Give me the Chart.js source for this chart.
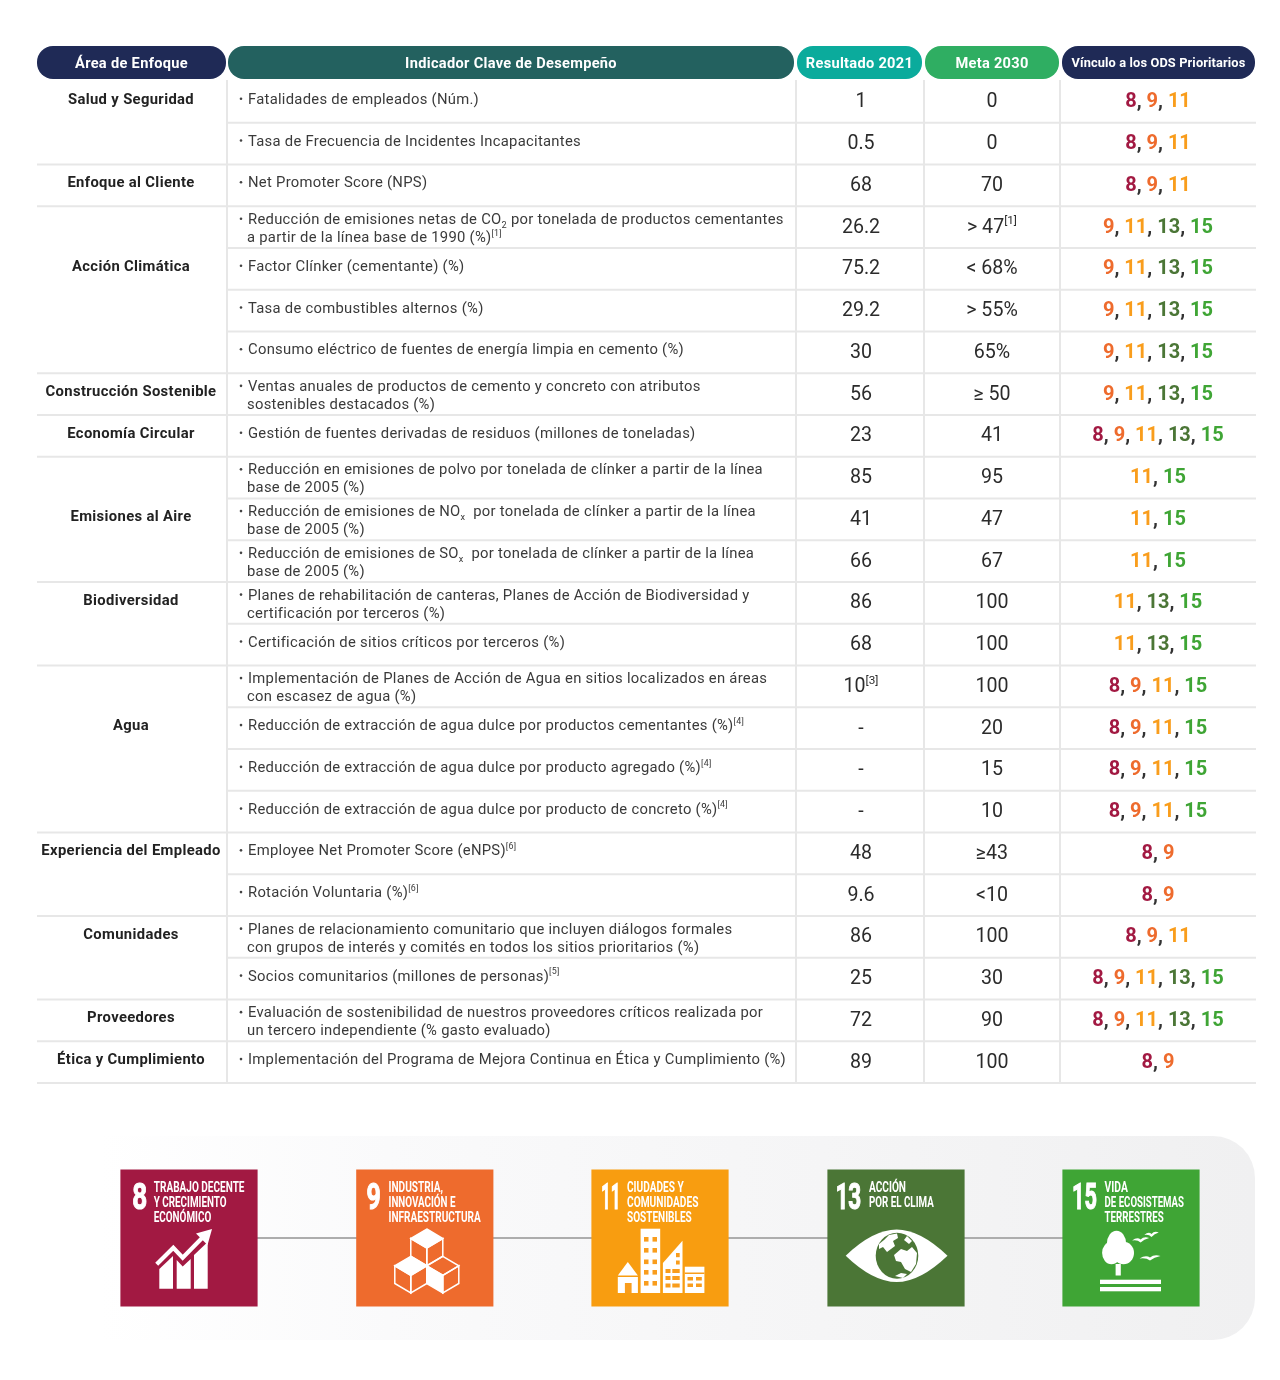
<!DOCTYPE html>
<html lang="es">
<head>
<meta charset="utf-8">
<title>Indicadores de sostenibilidad</title>
<script src="https://cdn.jsdelivr.net/npm/chart.js@4"></script>
<style>
  html, body { margin: 0; padding: 0; background: #fff; }
  canvas { display: block; }
</style>
</head>
<body>
<canvas id="chart" width="1280" height="1380"></canvas>
<script>
// _{x} = subindice, ^{x} = superindice, \n = segunda linea
const headers = ["Área de Enfoque", "Indicador Clave de Desempeño", "Resultado 2021", "Meta 2030", "Vínculo a los ODS Prioritarios"];
const areas = ["Salud y Seguridad", "Enfoque al Cliente", "Acción Climática", "Construcción Sostenible", "Economía Circular", "Emisiones al Aire", "Biodiversidad", "Agua", "Experiencia del Empleado", "Comunidades", "Proveedores", "Ética y Cumplimiento"];
const areaFirstRow = [0, 2, 3, 7, 8, 9, 12, 14, 18, 20, 22, 23];
const areaLabelRow = [0, 2, 4, 7, 8, 10, 12, 15, 18, 20, 22, 23];
const indicators = [
  "Fatalidades de empleados (Núm.)",
  "Tasa de Frecuencia de Incidentes Incapacitantes",
  "Net Promoter Score (NPS)",
  "Reducción de emisiones netas de CO_{2} por tonelada de productos cementantes\na partir de la línea base de 1990 (%)^{[1]}",
  "Factor Clínker (cementante) (%)",
  "Tasa de combustibles alternos (%)",
  "Consumo eléctrico de fuentes de energía limpia en cemento (%)",
  "Ventas anuales de productos de cemento y concreto con atributos\nsostenibles destacados (%)",
  "Gestión de fuentes derivadas de residuos (millones de toneladas)",
  "Reducción en emisiones de polvo por tonelada de clínker a partir de la línea\nbase de 2005 (%)",
  "Reducción de emisiones de NO_{x}  por tonelada de clínker a partir de la línea\nbase de 2005 (%)",
  "Reducción de emisiones de SO_{x}  por tonelada de clínker a partir de la línea\nbase de 2005 (%)",
  "Planes de rehabilitación de canteras, Planes de Acción de Biodiversidad y\ncertificación por terceros (%)",
  "Certificación de sitios críticos por terceros (%)",
  "Implementación de Planes de Acción de Agua en sitios localizados en áreas\ncon escasez de agua (%)",
  "Reducción de extracción de agua dulce por productos cementantes (%)^{[4]}",
  "Reducción de extracción de agua dulce por producto agregado (%)^{[4]}",
  "Reducción de extracción de agua dulce por producto de concreto (%)^{[4]}",
  "Employee Net Promoter Score (eNPS)^{[6]}",
  "Rotación Voluntaria (%)^{[6]}",
  "Planes de relacionamiento comunitario que incluyen diálogos formales\ncon grupos de interés y comités en todos los sitios prioritarios (%)",
  "Socios comunitarios (millones de personas)^{[5]}",
  "Evaluación de sostenibilidad de nuestros proveedores críticos realizada por\nun tercero independiente (% gasto evaluado)",
  "Implementación del Programa de Mejora Continua en Ética y Cumplimiento (%)"
];
const resultado2021 = ["1", "0.5", "68", "26.2", "75.2", "29.2", "30", "56", "23", "85", "41", "66", "86", "68", "10^{[3]}", "-", "-", "-", "48", "9.6", "86", "25", "72", "89"];
const meta2030 = ["0", "0", "70", "> 47^{[1]}", "< 68%", "> 55%", "65%", "≥ 50", "41", "95", "47", "67", "100", "100", "100", "20", "15", "10", "≥43", "<10", "100", "30", "90", "100"];
const odsVinculo = [
  [8, 9, 11], [8, 9, 11], [8, 9, 11],
  [9, 11, 13, 15], [9, 11, 13, 15], [9, 11, 13, 15], [9, 11, 13, 15], [9, 11, 13, 15],
  [8, 9, 11, 13, 15],
  [11, 15], [11, 15], [11, 15],
  [11, 13, 15], [11, 13, 15],
  [8, 9, 11, 15], [8, 9, 11, 15], [8, 9, 11, 15], [8, 9, 11, 15],
  [8, 9], [8, 9],
  [8, 9, 11], [8, 9, 11, 13, 15], [8, 9, 11, 13, 15],
  [8, 9]
];
const odsGoals = [8, 9, 11, 13, 15];
const odsTitles = [
  ["TRABAJO DECENTE", "Y CRECIMIENTO", "ECONÓMICO"],
  ["INDUSTRIA,", "INNOVACIÓN E", "INFRAESTRUCTURA"],
  ["CIUDADES Y", "COMUNIDADES", "SOSTENIBLES"],
  ["ACCIÓN", "POR EL CLIMA"],
  ["VIDA", "DE ECOSISTEMAS", "TERRESTRES"]
];

// layout y estilos
const FONT = "Roboto, sans-serif";
const odsColors = { 8: "#a21942", 9: "#ee6b2d", 11: "#f99d1c", 13: "#4b7636", 15: "#3fa535" };
const headerSpans = [[37, 226], [228, 794], [797, 922], [925, 1059], [1062, 1255]];
const headerColors = ["#1f2a56", "#23615f", "#0bab9c", "#2fae62", "#1f2a56"];
const headerFonts = [[700, 14.6, 0.32], [700, 14.6, 0.32], [700, 14.6, 0.3], [700, 14.6, 0.3], [700, 12.8, 0.13]];
const tileCenterX = [189, 424.8, 660, 896, 1131];
const tileHalf = 68.6;
const tileCenterY = 1238;
const tileNumberBox = [[12.2, 27.2], [10.7, 25], [10, 29.3], [8.4, 34.3], [10, 35]];
const tileTitleX = [33.8, 32.7, 36, 42, 42.6];
const tileTitleW = [[90.7, 72.7, 57.4], [54.6, 67, 92.3], [56.7, 71.4, 64.7], [37, 64.7], [23.3, 79.4, 59]];
const gridColor = "#e7e7e7";
const textColor = "#3a3a3a";
const numberColor = "#2b2b2b";

function rich(ctx, str, x, y, weight, size, align, color, spacing) {
  const parts = str.split(/(_\{.*?\}|\^\{.*?\})/).filter(Boolean).map((p) => {
    if (p.startsWith("_{")) return { t: p.slice(2, -1), s: size * 0.62, dy: 4 };
    if (p.startsWith("^{")) return { t: p.slice(2, -1), s: size * 0.6, dy: -size * 0.42 };
    return { t: p, s: size, dy: 0 };
  });
  ctx.letterSpacing = (spacing || 0) + "px";
  let w = 0;
  parts.forEach((p) => {
    ctx.font = `${weight} ${p.s}px ${FONT}`;
    p.w = ctx.measureText(p.t).width;
    w += p.w;
  });
  let cx = align === "center" ? x - w / 2 : x;
  ctx.textAlign = "left";
  ctx.textBaseline = "alphabetic";
  ctx.fillStyle = color;
  parts.forEach((p) => {
    ctx.font = `${weight} ${p.s}px ${FONT}`;
    ctx.fillText(p.t, cx, y + p.dy);
    cx += p.w;
  });
  ctx.letterSpacing = "0px";
}

// texto condensado al ancho medido
function squeezed(ctx, text, x, y, size, width, thicken) {
  ctx.save();
  ctx.font = `700 ${size}px ${FONT}`;
  ctx.textAlign = "left";
  ctx.textBaseline = "alphabetic";
  ctx.translate(x, y);
  ctx.scale(width / ctx.measureText(text).width, 1);
  ctx.fillStyle = "#fff";
  ctx.fillText(text, 0, 0);
  if (thicken) {
    ctx.strokeStyle = "#fff";
    ctx.lineWidth = thicken;
    ctx.strokeText(text, 0, 0);
  }
  ctx.restore();
}

function poly(ctx, pts) {
  ctx.beginPath();
  pts.forEach((p, i) => (i ? ctx.lineTo(p[0], p[1]) : ctx.moveTo(p[0], p[1])));
  ctx.closePath();
}

function iconGrowth(ctx) {
  ctx.fillStyle = "#fff";
  ctx.strokeStyle = "#fff";
  [[[39.3, 119.7], [53, 119.7], [53, 87], [39.3, 100]],
   [[56.7, 119.7], [70.7, 119.7], [70.7, 90], [62.7, 97.5], [56.7, 91]],
   [[74, 119.7], [87.7, 119.7], [87.7, 73], [74, 86]],
   [[92, 60], [76, 64.5], [87.5, 76]]].forEach((p) => { poly(ctx, p); ctx.fill(); });
  ctx.lineWidth = 4.2;
  ctx.lineJoin = "miter";
  ctx.beginPath();
  ctx.moveTo(36.7, 95.3);
  ctx.lineTo(53.3, 78.7);
  ctx.lineTo(62.7, 88.7);
  ctx.lineTo(85, 66);
  ctx.stroke();
}

function cube(ctx, cx, top, fillFace) {
  const w = 16, s = 9.5, h = 17.7;
  const T = [cx, top], L = [cx - w, top + s], R = [cx + w, top + s], C = [cx, top + 2 * s];
  const BL = [cx - w, top + s + h], BR = [cx + w, top + s + h], B = [cx, top + 2 * s + h];
  const faces = { top: [T, R, C, L], left: [L, C, B, BL], right: [C, R, BR, B] };
  ctx.fillStyle = "#fff";
  ctx.strokeStyle = "#fff";
  ctx.lineWidth = 1.5;
  Object.keys(faces).forEach((k) => {
    poly(ctx, faces[k]);
    if (k === fillFace) ctx.fill();
    ctx.stroke();
  });
}

function iconCity(ctx, bg) {
  const fillR = (x0, x1, y0, y1, c) => { ctx.fillStyle = c; ctx.fillRect(x0, y0, x1 - x0, y1 - y0); };
  ctx.fillStyle = "#fff";
  poly(ctx, [[36.8, 93], [46.9, 106.5], [26.8, 106.5]]);
  ctx.fill();
  fillR(26.8, 46.9, 108, 124, "#fff");
  fillR(33.9, 40.6, 114, 124, bg);
  fillR(49.6, 69.2, 59.7, 124, "#fff");
  [68, 79, 90.5, 101, 112].forEach((y) => {
    fillR(53, 57.5, y, y + 4.6, bg);
    fillR(61.5, 66, y, y + 4.6, bg);
  });
  ctx.fillStyle = "#fff";
  poly(ctx, [[71.9, 94], [91.5, 71.7], [91.5, 124], [71.9, 124]]);
  ctx.fill();
  [[85, 84, 88.7, 88.2], [85, 91.5, 88.7, 95.5], [74.5, 100, 79.5, 104], [81.3, 100, 88.7, 104], [74.5, 107, 79.5, 111], [81.3, 107, 88.7, 111], [74.5, 114.5, 79.5, 118.5], [81.3, 114.5, 88.7, 118.5]].forEach((r) => fillR(r[0], r[2], r[1], r[3], bg));
  fillR(93.8, 113.4, 97.7, 124, "#fff");
  fillR(93.8, 113.4, 103.5, 105, bg);
  [[96.5, 102], [105, 110.8]].forEach((c) => {
    fillR(c[0], c[1], 108, 111.5, bg);
    fillR(c[0], c[1], 114.5, 118, bg);
  });
}

function iconEye(ctx, bg) {
  ctx.fillStyle = "#fff";
  ctx.beginPath();
  ctx.moveTo(18.7, 86.7);
  ctx.quadraticCurveTo(46, 60.5, 69.7, 60.5);
  ctx.quadraticCurveTo(93, 60.5, 120.5, 86.7);
  ctx.quadraticCurveTo(93, 113, 69.7, 113);
  ctx.quadraticCurveTo(46, 113, 18.7, 86.7);
  ctx.fill();
  ctx.fillStyle = bg;
  ctx.beginPath();
  ctx.ellipse(70, 86.7, 21.3, 23, 0, 0, Math.PI * 2);
  ctx.fill();
  ctx.fillStyle = "#fff";
  [[[62, 66], [70, 64.5], [71, 69], [66, 72], [68, 77], [60, 83], [56, 78], [52, 80], [52, 75], [57, 71]],
   [[67, 86], [74, 80], [80, 82], [85, 78], [90, 84], [89, 95], [84, 103], [78, 100], [74, 93], [69, 92]],
   [[68, 107], [74, 104], [80, 105], [76, 109]],
   [[80, 67], [85, 72], [82, 75], [77, 71]]].forEach((p) => { poly(ctx, p); ctx.fill(); });
}

function bird(ctx, x, y, half) {
  ctx.beginPath();
  ctx.moveTo(x - half, y + 1.5);
  ctx.quadraticCurveTo(x - half * 0.4, y - 2.5, x, y + 0.5);
  ctx.quadraticCurveTo(x + half * 0.4, y - 3, x + half, y - 1);
  ctx.quadraticCurveTo(x + half * 0.4, y, x, y + 3.6);
  ctx.quadraticCurveTo(x - half * 0.4, y + 0.3, x - half, y + 1.5);
  ctx.fill();
}

function iconTree(ctx) {
  ctx.fillStyle = "#fff";
  [[54.5, 74.5, 9.6, 12.8], [49.5, 84, 9.4, 11.2], [61.5, 84, 10.5, 11.2]].forEach((e) => {
    ctx.beginPath();
    ctx.ellipse(e[0], e[1], e[2], e[3], 0, 0, Math.PI * 2);
    ctx.fill();
  });
  ctx.fillRect(53.6, 95, 5.2, 11.5);
  ctx.fillRect(38, 110.7, 61, 4.3);
  ctx.fillRect(38, 118, 61, 4.3);
  bird(ctx, 78.6, 70, 8.5);
  bird(ctx, 89.5, 64.5, 7.2);
  bird(ctx, 88, 88, 10.5);
}

const tablePlugin = {
  id: "table",
  beforeDatasetsDraw(chart) {
    const { ctx, scales: { x, y, py } } = chart;
    // panel de los ODS
    const grad = ctx.createLinearGradient(x.getPixelForValue(100), 0, x.getPixelForValue(1255), 0);
    grad.addColorStop(0, "#ffffff");
    grad.addColorStop(0.25, "#fafafb");
    grad.addColorStop(1, "#f0f0f1");
    ctx.fillStyle = grad;
    ctx.beginPath();
    ctx.roundRect(x.getPixelForValue(100), py.getPixelForValue(1136), 1155, 204, [0, 42, 42, 0]);
    ctx.fill();

    // rejilla
    ctx.strokeStyle = gridColor;
    ctx.lineWidth = 2;
    [227, 796, 924, 1060].forEach((v) => {
      ctx.beginPath();
      ctx.moveTo(x.getPixelForValue(v), py.getPixelForValue(80));
      ctx.lineTo(x.getPixelForValue(v), y.getPixelForValue(indicators.length) + 1);
      ctx.stroke();
    });
    for (let r = 1; r <= indicators.length; r++) {
      const closesArea = r === indicators.length || areaFirstRow.includes(r);
      ctx.beginPath();
      ctx.moveTo(x.getPixelForValue(closesArea ? 37 : 228), y.getPixelForValue(r));
      ctx.lineTo(x.getPixelForValue(1256), y.getPixelForValue(r));
      ctx.stroke();
    }

    // encabezados
    headerSpans.forEach((span, i) => {
      const x0 = x.getPixelForValue(span[0]);
      const x1 = x.getPixelForValue(span[1]);
      ctx.fillStyle = headerColors[i];
      ctx.beginPath();
      ctx.roundRect(x0, py.getPixelForValue(46), x1 - x0, 33, 16);
      ctx.fill();
      rich(ctx, headers[i], (x0 + x1) / 2, py.getPixelForValue(i === 4 ? 67.4 : 68), headerFonts[i][0], headerFonts[i][1], "center", "#fff", headerFonts[i][2]);
    });
  },
  afterDatasetsDraw(chart) {
    const { ctx, scales: { x, y, py } } = chart;

    areas.forEach((name, i) => {
      rich(ctx, name, x.getPixelForValue(131), y.getPixelForValue(areaLabelRow[i] + 0.545), 700, 14.8, "center", "#222", 0.35);
    });

    indicators.forEach((text, r) => {
      const lines = text.split("\n");
      const fracs = lines.length > 1 ? [0.42, 0.855] : [0.545];
      ctx.fillStyle = "#444";
      ctx.beginPath();
      ctx.arc(x.getPixelForValue(241), y.getPixelForValue(r + fracs[0]) - 5, 1.3, 0, Math.PI * 2);
      ctx.fill();
      lines.forEach((line, i) => {
        rich(ctx, line, x.getPixelForValue(i ? 247 : 248), y.getPixelForValue(r + fracs[i]), 400, 14.8, "left", textColor, 0.28);
      });
    });

    // columnas de valores: posicion tomada de los puntos del dataset
    const resPts = chart.getDatasetMeta(0).data;
    const metaPts = chart.getDatasetMeta(1).data;
    const odsPts = chart.getDatasetMeta(2).data;
    resultado2021.forEach((v, i) => rich(ctx, v, resPts[i].x, resPts[i].y, 400, 19.6, "center", numberColor));
    meta2030.forEach((v, i) => rich(ctx, v, metaPts[i].x, metaPts[i].y, 400, 19.6, "center", numberColor));
    odsVinculo.forEach((goals, i) => {
      ctx.font = `700 20px ${FONT}`;
      const pieces = [];
      goals.forEach((g, k) => {
        pieces.push([String(g), odsColors[g]]);
        if (k < goals.length - 1) pieces.push([", ", "#333"]);
      });
      let cx = odsPts[i].x - pieces.reduce((s, p) => s + ctx.measureText(p[0]).width, 0) / 2;
      ctx.textAlign = "left";
      ctx.textBaseline = "alphabetic";
      pieces.forEach((p) => {
        ctx.fillStyle = p[1];
        ctx.fillText(p[0], cx, odsPts[i].y);
        cx += ctx.measureText(p[0]).width;
      });
    });

    // tarjetas ODS
    odsGoals.forEach((goal, i) => {
      const left = x.getPixelForValue(tileCenterX[i] - 69);
      const top = py.getPixelForValue(tileCenterY - 69);
      ctx.save();
      ctx.translate(left, top);
      squeezed(ctx, String(goal), tileNumberBox[i][0], 39.8, 36.5, tileNumberBox[i][1] - tileNumberBox[i][0], 1.1);
      odsTitles[i].forEach((line, k) => {
        squeezed(ctx, line, tileTitleX[i], 23 + k * 15, 15.4, tileTitleW[i][k]);
      });
      if (goal === 8) iconGrowth(ctx);
      if (goal === 9) {
        cube(ctx, 71, 60, "top");
        cube(ctx, 87, 87.3, "left");
        cube(ctx, 55, 87.3, "top");
      }
      if (goal === 11) iconCity(ctx, odsColors[11]);
      if (goal === 13) iconEye(ctx, odsColors[13]);
      if (goal === 15) iconTree(ctx);
      ctx.restore();
    });
  }
};

const valuePoints = (column, frac) => column.map((_, r) => ({ x: 0, y: r + frac }));
const hiddenPoints = { pointRadius: 0, pointHoverRadius: 0, showLine: false };

new Chart(document.getElementById("chart"), {
  type: "scatter",
  data: {
    datasets: [
      { label: "Resultado 2021", data: valuePoints(resultado2021, 0.63).map((p) => ({ ...p, x: 861 })), ...hiddenPoints },
      { label: "Meta 2030", data: valuePoints(meta2030, 0.63).map((p) => ({ ...p, x: 992 })), ...hiddenPoints },
      { label: "Vínculo ODS", data: valuePoints(odsVinculo, 0.63).map((p) => ({ ...p, x: 1158 })), ...hiddenPoints },
      {
        label: "Conector",
        type: "line",
        yAxisID: "py",
        order: 5,
        data: [{ x: tileCenterX[0], y: tileCenterY }, { x: tileCenterX[4], y: tileCenterY }],
        borderColor: "#adadad",
        borderWidth: 2,
        pointRadius: 0
      },
      {
        label: "ODS",
        yAxisID: "py",
        order: 1,
        data: odsGoals.map((g, i) => ({ x: tileCenterX[i], y: tileCenterY })),
        pointStyle: "rect",
        pointRadius: tileHalf * Math.SQRT2,
        pointHoverRadius: tileHalf * Math.SQRT2,
        pointBorderWidth: 0,
        pointBackgroundColor: odsGoals.map((g) => (g === 11 ? "#f89d10" : odsColors[g]))
      }
    ]
  },
  options: {
    responsive: false,
    animation: false,
    devicePixelRatio: 1,
    layout: { padding: 0, autoPadding: false },
    events: [],
    plugins: { legend: { display: false }, tooltip: { enabled: false } },
    scales: {
      x: { type: "linear", display: false, min: 0, max: 1280 },
      y: { type: "linear", display: false, min: -1.94, max: 31.11, reverse: true },
      py: { type: "linear", display: false, min: 0, max: 1380, reverse: true }
    }
  },
  plugins: [tablePlugin]
});
</script>
</body>
</html>
